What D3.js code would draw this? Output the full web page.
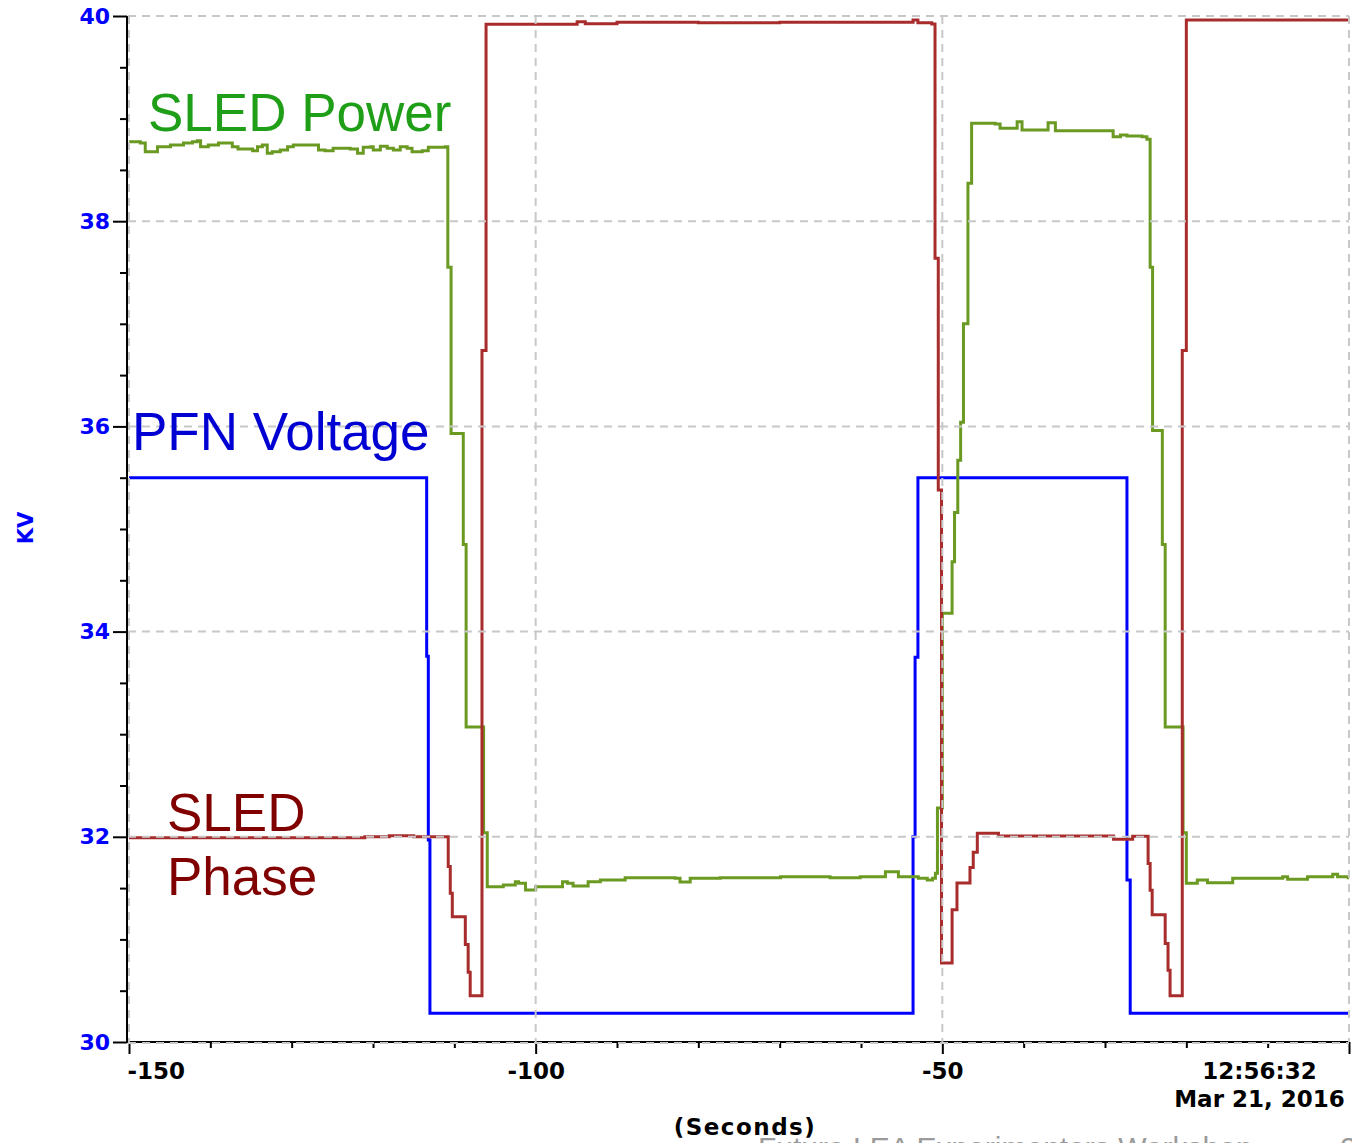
<!DOCTYPE html>
<html>
<head>
<meta charset="utf-8">
<script src="https://cdn.jsdelivr.net/npm/d3@7"></script>
<style>
  html, body { margin: 0; padding: 0; background: #fff; overflow: hidden; }
  svg { display: block; }
</style>
</head>
<body>
<svg id="chart" width="1352" height="1143"></svg>
<script>
// ---- Trace samples: seconds before the time stamp, value in kV ----

// PFN voltage
const pfnTime = [-150, -113.4, -113.2, -113.0, -53.6, -53.35, -53.0, -27.3, -26.9, 0];
const pfnKV   = [35.5, 33.76, 31.97, 30.28, 32.0, 33.75, 35.5, 31.58, 30.28, 30.28];

// SLED phase
const phaseTime = [-150, -121, -118, -115, -110.75, -110.5, -110.25, -108.65, -108.3, -108.05,
  -106.6, -106.1, -94.9, -93.9, -90, -80, -70, -53.6, -53.0, -51.3,
  -50.9, -50.5, -50.1, -48.8, -48.2, -46.6, -46.2, -45.7, -43.1, -28.95,
  -26.6, -24.7, -24.45, -24.2, -22.6, -22.25, -22.0, -20.5, -20.0, 0];
const phaseKV = [31.99, 32.0, 32.01, 32.0, 31.71, 31.45, 31.22, 30.95, 30.68, 30.45,
  36.74, 39.92, 39.945, 39.925, 39.94, 39.935, 39.94, 39.96, 39.935, 39.922,
  37.64, 35.38, 30.77, 31.29, 31.55, 31.70, 31.85, 32.034, 32.008, 31.976,
  32.005, 31.74, 31.48, 31.24, 30.96, 30.70, 30.45, 36.74, 39.96, 39.96];

// SLED power
const powerTime = [-150, -148.6, -148.0, -146.5, -144.9, -143.3, -142.2, -141.6, -141.2, -140.25,
  -139.0, -137.3, -136.6, -134.8, -134.2, -133.6, -133.0, -132.4, -131.4, -130.5,
  -129.8, -126.7, -125.9, -124.9, -122.8, -121.9, -121.2, -120.3, -119.97, -119.1,
  -118.25, -117.5, -116.65, -115.8, -115.2, -113.95, -113.2, -111.1, -110.8, -110.4,
  -108.9, -108.55, -106.4, -105.95, -103.98, -102.5, -102.1, -101.25, -100.0, -96.7,
  -96.1, -95.4, -93.55, -92.05, -89.0, -82.85, -82.25, -81.0, -77.3, -69.9,
  -63.8, -60.1, -57.0, -55.4, -52.95, -51.85, -51.2, -50.85, -50.6, -50.0,
  -48.8, -48.5, -48.1, -47.75, -47.4, -46.85, -46.4, -43.5, -42.9, -40.8,
  -40.2, -37.0, -36.1, -29.0, -28.1, -27.3, -25.45, -24.85, -24.45, -24.15,
  -22.95, -22.6, -20.4, -20.0, -18.65, -17.4, -14.3, -8.15, -7.55, -5.1,
  -2.0, -1.4, -0.1, 0];
const powerKV = [38.775, 38.762, 38.677, 38.726, 38.743, 38.762, 38.775, 38.785, 38.726, 38.743,
  38.762, 38.726, 38.704, 38.687, 38.726, 38.743, 38.662, 38.677, 38.694, 38.726,
  38.743, 38.694, 38.687, 38.711, 38.704, 38.662, 38.720, 38.726, 38.694, 38.730,
  38.711, 38.694, 38.726, 38.711, 38.677, 38.687, 38.720, 38.726, 37.55, 35.93,
  34.85, 33.07, 32.04, 31.514, 31.53, 31.562, 31.547, 31.482, 31.514, 31.562,
  31.547, 31.52, 31.562, 31.579, 31.60, 31.595, 31.56, 31.595, 31.60, 31.61,
  31.60, 31.61, 31.659, 31.611, 31.595, 31.579, 31.595, 31.644, 32.28, 34.18,
  34.68, 35.16, 35.67, 36.04, 37.0, 38.37, 38.954, 38.947, 38.905, 38.97,
  38.889, 38.96, 38.882, 38.824, 38.84, 38.83, 38.824, 38.798, 37.55, 35.96,
  34.85, 33.07, 32.04, 31.547, 31.579, 31.553, 31.595, 31.611, 31.586, 31.611,
  31.634, 31.611, 31.601, 31.601];

// ---- Axis ticks and labels ----
const yMajorTicks = [30, 32, 34, 36, 38, 40];
const yMinorTicks = d3.range(30, 40.001, 0.5).filter(v => v % 2 !== 0);
const xMajorTicks = [-150, -100, -50, 0];
const xMajorLabels = ["-150", "-100", "-50", ""];
const xMinorTicks = d3.range(-150, 0.001, 10).filter(v => v % 50 !== 0);
const stampLines = ["12:56:32", "Mar 21, 2016"];
const xAxisTitle = "(Seconds)";
const yAxisTitle = "KV";
const footerText = "Future LEA Experimenters Workshop";
const footerPage = "2";

const svg = d3.select("#chart");

const x = d3.scaleLinear().domain([-150, 0]).range([129, 1349]);
const y = d3.scaleLinear().domain([30, 40]).range([1042, 16]);
const axisX = 127;

const zip = (t, v) => t.map((ti, i) => [ti, v[i]]);
const traceLine = d3.line()
  .x(d => x(d[0]))
  .y(d => y(d[1]))
  .curve(d3.curveStepAfter);

const tickFont = "'DejaVu Sans', Verdana, sans-serif";

// ---- Axes ----
// y axis: minor ticks
svg.append("g")
  .attr("transform", `translate(${axisX},0)`)
  .call(d3.axisLeft(y).tickValues(yMinorTicks).tickSize(7).tickFormat(""))
  .call(g => g.select(".domain").remove())
  .call(g => g.selectAll(".tick line").attr("stroke", "#000").attr("stroke-width", 2));

// y axis: major ticks + labels
svg.append("g")
  .attr("transform", `translate(${axisX},0)`)
  .call(d3.axisLeft(y).tickValues(yMajorTicks).tickSize(14).tickSizeOuter(0).tickPadding(3).tickFormat(d3.format("d")))
  .call(g => g.select(".domain").remove())
  .call(g => g.selectAll(".tick line").attr("stroke", "#000").attr("stroke-width", 2))
  .call(g => g.selectAll(".tick text")
    .attr("fill", "#0000ff")
    .attr("font-family", tickFont)
    .attr("font-weight", "bold")
    .attr("font-size", 22));

// x axis: minor ticks
svg.append("g")
  .attr("transform", `translate(0,${y(30)})`)
  .call(d3.axisBottom(x).tickValues(xMinorTicks).tickSize(6).tickFormat(""))
  .call(g => g.select(".domain").remove())
  .call(g => g.selectAll(".tick line").attr("stroke", "#000").attr("stroke-width", 2));

// x axis: major ticks + labels
const gxMajor = svg.append("g")
  .attr("transform", `translate(0,${y(30)})`)
  .call(d3.axisBottom(x).tickValues(xMajorTicks).tickSize(12).tickSizeOuter(0).tickPadding(9)
    .tickFormat((d, i) => xMajorLabels[i]))
  .call(g => g.select(".domain").remove())
  .call(g => g.selectAll(".tick line").attr("stroke", "#000").attr("stroke-width", 2))
  .call(g => g.selectAll(".tick text")
    .attr("fill", "#000")
    .attr("font-family", tickFont)
    .attr("font-weight", "bold")
    .attr("font-size", 23));

// first label starts at its tick
gxMajor.selectAll(".tick text").filter(d => d === -150)
  .attr("text-anchor", "start").attr("x", -2);

// time stamp under the last tick
const stamp = gxMajor.selectAll(".tick").filter(d => d === 0).select("text");
stamp.text(null).attr("text-anchor", "middle");
stamp.selectAll("tspan").data(stampLines).join("tspan")
  .attr("x", -90)
  .attr("dy", (d, i) => i === 0 ? "0.71em" : "1.22em")
  .text(d => d);
stamp.attr("dy", null);

// axis lines
svg.append("line")
  .attr("x1", axisX).attr("x2", axisX)
  .attr("y1", y(40)).attr("y2", y(30) + 1)
  .attr("stroke", "#000").attr("stroke-width", 2);
svg.append("line")
  .attr("x1", axisX).attr("x2", x(0) + 1)
  .attr("y1", y(30)).attr("y2", y(30))
  .attr("stroke", "#000").attr("stroke-width", 2);

// axis titles
svg.append("text")
  .attr("x", 745).attr("y", 1135)
  .attr("text-anchor", "middle")
  .attr("font-family", tickFont).attr("font-weight", "bold").attr("font-size", 23)
  .attr("letter-spacing", 1.5)
  .attr("fill", "#000")
  .text(xAxisTitle);

svg.append("text")
  .attr("transform", "translate(26,528) rotate(-90)")
  .attr("text-anchor", "middle")
  .attr("dominant-baseline", "central")
  .attr("font-family", tickFont).attr("font-weight", "bold").attr("font-size", 21)
  .attr("fill", "#0000ff")
  .text(yAxisTitle);

// ---- Traces ----
const plot = svg.append("g").attr("fill", "none").attr("stroke-width", 3)
  .attr("stroke-linejoin", "miter");

plot.append("path")
  .attr("d", traceLine(zip(pfnTime, pfnKV)))
  .attr("stroke", "#0000ff");

plot.append("path")
  .attr("d", traceLine(zip(powerTime, powerKV)))
  .attr("stroke", "#6b9a22");

plot.append("path")
  .attr("d", traceLine(zip(phaseTime, phaseKV)))
  .attr("stroke", "#a82c2c");

// ---- Dashed grid, drawn over the traces ----
const grid = svg.append("g")
  .attr("stroke", "#c8c8c8")
  .attr("stroke-width", 2)
  .attr("stroke-dasharray", "8,6")
  .attr("fill", "none");

grid.selectAll("line.h").data(yMajorTicks).join("line")
  .attr("class", "h")
  .attr("x1", axisX + 1).attr("x2", x(0))
  .attr("y1", d => y(d) + (d === 30 ? 1 : 0))
  .attr("y2", d => y(d) + (d === 30 ? 1 : 0));

grid.selectAll("line.v").data(xMajorTicks).join("line")
  .attr("class", "v")
  .attr("x1", d => x(d)).attr("x2", d => x(d))
  .attr("y1", y(40)).attr("y2", y(30));

// ---- Trace labels ----
const labelFont = "'Liberation Sans', Arial, sans-serif";
const labels = svg.append("g")
  .attr("font-family", labelFont)
  .attr("font-size", 53);

labels.append("text").attr("x", 148).attr("y", 131).attr("fill", "#1f9e18").text("SLED Power");
labels.append("text").attr("x", 132).attr("y", 450).attr("fill", "#0000d2").text("PFN Voltage");
labels.append("text").attr("x", 167).attr("y", 831).attr("fill", "#800000").text("SLED");
labels.append("text").attr("x", 167).attr("y", 895).attr("fill", "#800000").text("Phase");

// ---- Footer line, partly below the page edge ----
svg.append("text")
  .attr("x", 758).attr("y", 1158)
  .attr("font-family", labelFont).attr("font-size", 30)
  .attr("fill", "#9a9a9a")
  .text(footerText);
svg.append("text")
  .attr("x", 1340).attr("y", 1158)
  .attr("font-family", labelFont).attr("font-size", 30)
  .attr("fill", "#9a9a9a")
  .text(footerPage);
</script>
</body>
</html>
